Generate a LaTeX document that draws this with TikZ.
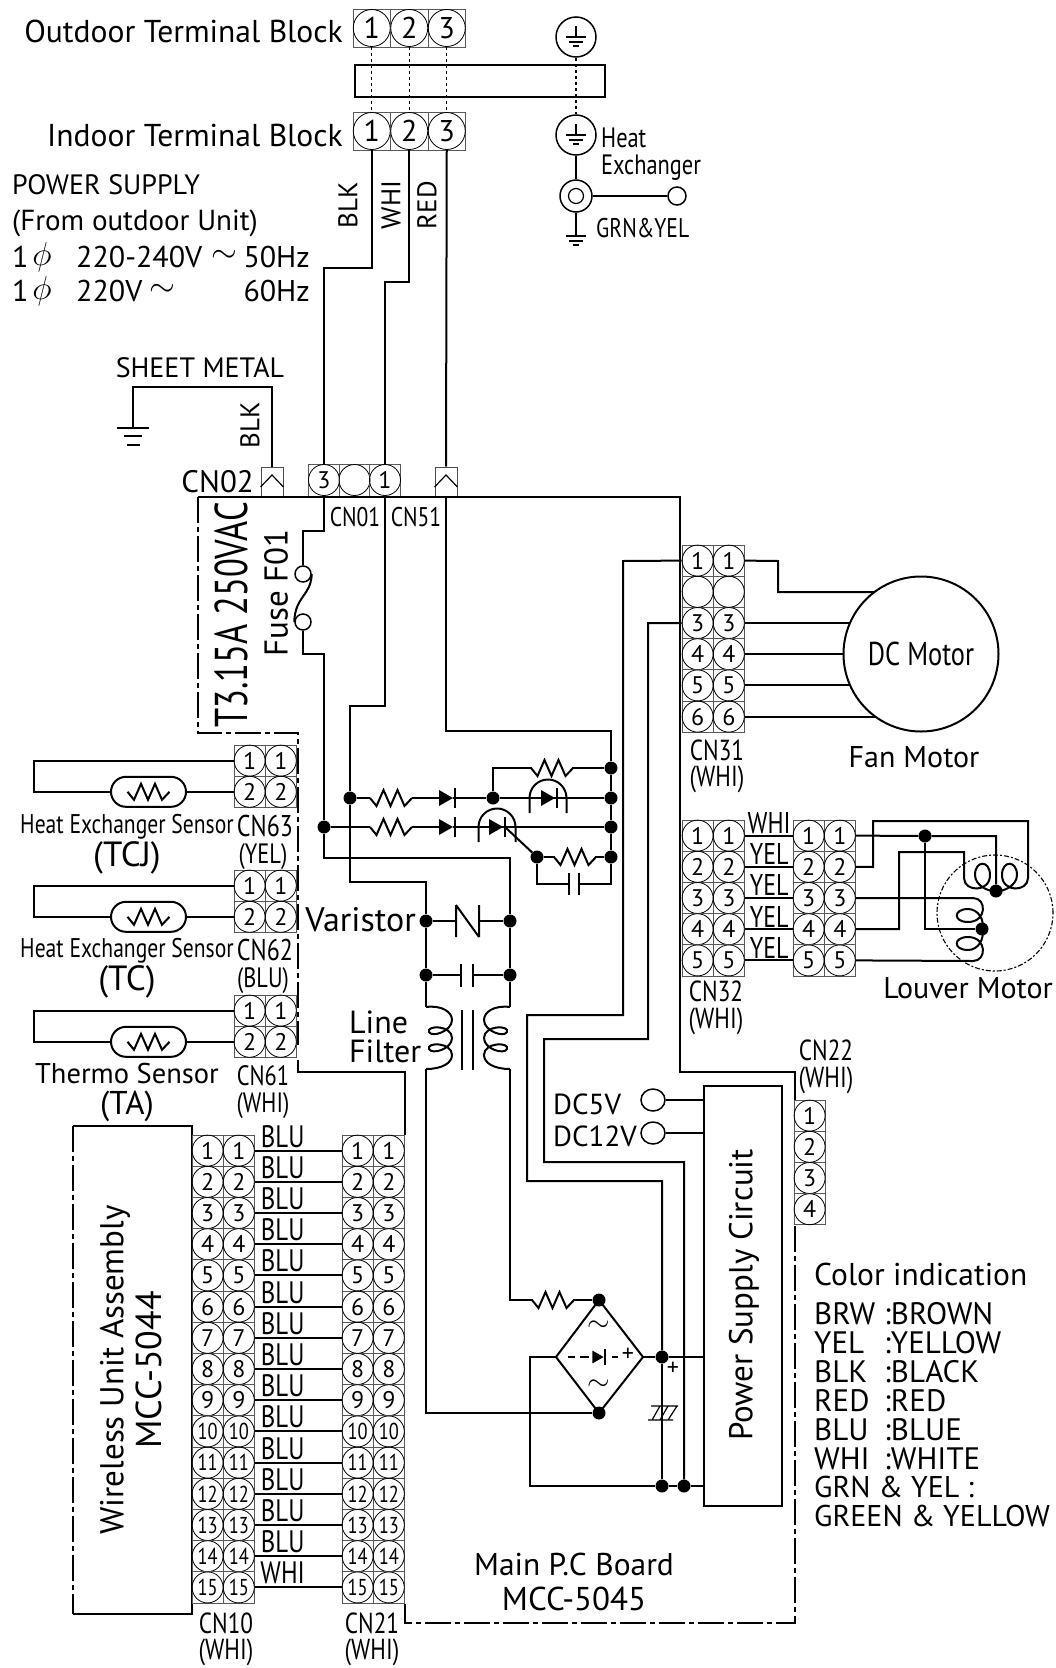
\documentclass[tikz,border=0pt]{standalone}
\usepackage{fontspec}
\usetikzlibrary{calc,shapes.geometric}
\setmainfont{PT Sans}
\newfontfamily\narrowfont[FakeStretch=0.8]{PT Sans}
\newfontfamily\slimfont[FakeStretch=0.75]{PT Sans}
\tikzset{
  wire/.style={line width=2pt},
  thinwire/.style={line width=1.2pt},
  gridline/.style={line width=0.9pt,draw=black!65},
  boardline/.style={line width=1.3pt,dash pattern=on 26pt off 4pt on 5pt off 4pt},
  linkline/.style={line width=1.1pt,dash pattern=on 5pt off 2pt on 2pt off 2pt},
  pinnode/.style={circle,draw,line width=0.8pt,inner sep=0pt,minimum size=31pt,font=\fontsize{24}{24}\selectfont},
  termnode/.style={circle,draw,line width=0.8pt,inner sep=0pt,minimum size=37pt,font=\fontsize{30}{30}\selectfont},
  dot/.style={circle,fill=black,inner sep=0pt,minimum size=13pt},
  txt/.style={inner sep=0pt,font=\fontsize{#1}{#1}\selectfont},
  txt/.default=28,
  nar/.style={inner sep=0pt,font=\narrowfont\fontsize{#1}{#1}\selectfont},
  nar/.default=28,
  sym/.style={inner sep=0pt,scale=#1,font=\fontsize{20}{20}\selectfont},
  resistor/.pic={\draw[wire] (-21,0) -- (-14.5,8) -- (-7.5,-8) -- (-0.5,8) -- (6.5,-8) -- (13.5,8) -- (21,0);},
  diode/.pic={\fill (-7,-8) -- (7,0) -- (-7,8) -- cycle; \draw[wire] (9,-10) -- (9,10);},
  lamp/.pic={\draw[wire] (-18.5,15) -- (-18.5,0) arc[start angle=180,end angle=360,radius=18.5] -- (18.5,15);},
  coil/.pic={\draw[wire] (0,0) .. controls (16,-2) and (26,5) .. (26,13)
    .. controls (26,24) and (6,31) .. (3,25) .. controls (0,18) and (26,18) .. (26,31)
    .. controls (26,42) and (6,48) .. (3,42) .. controls (0,35) and (26,35) .. (26,48)
    .. controls (26,56) and (16,62) .. (0,62);},
  earth/.pic={\draw[thinwire] (-10,0) -- (10,0) (-7,5) -- (7,5) (-3,9) -- (3,9);}
}
\newcommand{\pinnum}[1]{\ifnum#1>9 {\narrowfont\fontsize{23}{23}\selectfont #1}\else #1\fi}
% name, left, top, columns, rows (the optional row stays blank)
\newcommand{\pinblock}[6][0]{%
  \foreach \c in {1,...,#5}{\foreach \r in {1,...,#6}{
    \draw[gridline] ({#3+31.2*(\c-1)},{#4+31.2*(\r-1)}) rectangle +(31.2,31.2);
    \ifnum\r=#1
      \node[pinnode] (#2-\c-\r) at ({#3+31.2*(\c-.5)},{#4+31.2*(\r-.5)}) {};
    \else
      \node[pinnode] (#2-\c-\r) at ({#3+31.2*(\c-.5)},{#4+31.2*(\r-.5)}) {\pinnum{\r}};
    \fi
  }}}
\newcommand{\tabplug}[2]{%
  \node[draw=black!70,line width=0.9pt,minimum width=22pt,minimum height=30pt,inner sep=0pt] (#1) at (#2,482) {};
  \draw[thinwire] (#1.west) ++(0,5) -- (#2,475) -- ([yshift=-5pt]#1.east);}

\begin{document}
\begin{tikzpicture}[x=1pt,y=-1pt]
\useasboundingbox (0,0) rectangle (1056,1668);

% Terminal blocks and earth
\foreach \n/\xc in {1/371.75,2/409.25,3/446.75}{
  \draw[gridline] (\xc-18.75,9) rectangle +(37.5,38);
  \draw[gridline] (\xc-18.75,112) rectangle +(37.5,38);
  \node[termnode] (otb\n) at (\xc,28) {\n};
  \node[termnode] (itb\n) at (\xc,131) {\n};
  \draw[thinwire,dashed] (otb\n) -- (itb\n);
}
\draw[line width=2.2pt] (355,65) rectangle (605,97);
\node[draw,circle,line width=1.5pt,minimum size=40pt,inner sep=0pt] (gndtop) at (576,37) {};
\node[draw,circle,line width=1.5pt,minimum size=40pt,inner sep=0pt] (gndhx) at (576,135) {};
\draw[thinwire,dashed] (gndtop) -- (gndhx);
\draw[thinwire] (576,26) -- (576,37) (576,124) -- (576,135);
\pic at (576,37) {earth};
\pic at (576,135) {earth};
\node[draw,circle,line width=1.5pt,minimum size=32pt,inner sep=0pt] (hxring) at (576,196) {};
\node[draw,circle,line width=1.2pt,minimum size=15pt,inner sep=0pt] at (576,196) {};
\node[draw,circle,line width=1.5pt,minimum size=18pt,inner sep=0pt] (hxlug) at (677,196) {};
\coordinate (hxgnd) at (576,236);
\draw[wire] (gndhx) -- (hxring);
\draw[wire] (hxring) -- (hxlug);
\draw[wire] (hxring) -- (hxgnd);
\pic at (576,236) {earth};
\node[nar=28,anchor=west] at (601,138) {Heat};
\node[nar=28,anchor=west] at (601,168) {Exchanger};
\node[nar=27,anchor=west] at (596,228) {GRN\&YEL};
\node[txt=31.6,anchor=east] at (343,31) {Outdoor Terminal Block};
\node[txt=31.6,anchor=east] at (343,135) {Indoor Terminal Block};

% Power supply note
\node[txt,anchor=west] at (12,185) {POWER SUPPLY};
\node[txt=29,anchor=west] at (12,223) {(From outdoor Unit)};
\foreach \yy in {257,291}{
  \node[txt=30,anchor=west] at (12,\yy) {1};
  \node[sym=1.6] at (42,\yy) {$\phi$};
}
\node[txt=30,anchor=west] at (76,257) {220-240V};
\node[sym=1.6] at (224,256) {$\sim$};
\node[txt=30,anchor=east] at (310,257) {50Hz};
\node[txt=30,anchor=west] at (76,291) {220V};
\node[sym=1.6] at (162,290) {$\sim$};
\node[txt=30,anchor=east] at (310,291) {60Hz};

% Board connectors on the top edge
\foreach \n/\xc/\lab in {3/324/3,2/354.5/{},1/385/1}{
  \draw[gridline] (\xc-15.3,464) rectangle +(30.6,32);
  \node[pinnode] (cn01p\n) at (\xc,480) {\lab};
}
\tabplug{cn02}{272}
\tabplug{cn51}{446}
\draw[wire] (itb1.south) -- (371.75,268) -- (324,268) -- (cn01p3.north);
\draw[wire] (itb2.south) -- (409.25,282) -- (385,282) -- (cn01p1.north);
\draw[wire] (itb3.south) -- (cn51.north);
\node[txt=27,rotate=90] at (348,205) {BLK};
\node[txt=27,rotate=90] at (391,205) {WHI};
\node[txt=27,rotate=90] at (427,205) {RED};
\coordinate (sheetgnd) at (133,428);
\draw[wire] (cn02.north) -- (272,387) -- (133,387) -- (sheetgnd);
\draw[thinwire] (117,428) -- (149,428) (124,436) -- (142,436) (127,445) -- (140,445);
\node[txt,anchor=south] at (200,378) {SHEET METAL};
\node[txt=27,rotate=90] at (250,425) {BLK};
\node[txt=31,anchor=east] at (254,482) {CN02};
\node[nar=27] at (355,517) {CN01};
\node[nar=27] at (416,517) {CN51};

% Board outline
\draw[wire] (198,497) -- (680,497) -- (680,1072) -- (795,1072) -- (795,1100);
\draw[boardline] (198,497) -- (198,733) -- (298,733) -- (298,1045);
\draw[thinwire] (298,1060) -- (298,1072) -- (405,1072) -- (405,1135);
\draw[boardline] (405,1604) -- (405,1623) -- (795,1623) -- (795,1224);
\node[font=\slimfont\fontsize{46}{46}\selectfont,inner sep=0pt,rotate=90] at (231,615) {T3.15A 250VAC};
\node[txt=33,rotate=90] at (276,593) {Fuse F01};

% Fuse
\node[draw,circle,line width=1.5pt,minimum size=16pt,inner sep=0pt] (fusea) at (303,574) {};
\node[draw,circle,line width=1.5pt,minimum size=16pt,inner sep=0pt] (fuseb) at (303,622) {};
\draw[wire] (fusea.east) .. controls (311,596) and (295,596) .. (fuseb.west);
\coordinate (acin) at (324,654);

% Indicator lamps and their resistors
\node[dot] (dac) at (324,827) {};
\node[dot] (dn) at (350,798) {};
\node[dot] (dled) at (493,798) {};
\node[dot] (dcom) at (537,857) {};
\node[dot] (dr1) at (611,768) {};
\node[dot] (dr2) at (611,798) {};
\node[dot] (dr3) at (611,827) {};
\node[dot] (dr4) at (611,857) {};
\node[dot] (dva) at (426,921) {};
\node[dot] (dvb) at (510,921) {};
\node[dot] (dca) at (426,975) {};
\node[dot] (dcb) at (510,975) {};
\draw[wire] (cn01p3.south) -- (324,531) -- (303,531) -- (fusea.north);
\draw[wire] (fuseb.south) -- (303,654) -- (acin) -- (dac) -- (324,858) -- (510,858) -- (dvb);
\draw[wire] (cn01p1.south) -- (385,706) -- (350,706) -- (dn) -- (350,882) -- (426,882) -- (dva);
\draw[wire] (cn51.south) -- (446,731) -- (611,731) -- (dr1) -- (dr2) -- (dr3) -- (dr4) -- (611,884) -- (537,884) -- (dcom);
\draw[wire] (dled) -- (493,768) -- (532,768);
\draw[wire] (572,768) -- (dr1);
\pic at (552,768) {resistor};
\draw[wire] (dn) -- (370,798) (412,798) -- (439,798) (453,798) -- (dled) -- (dr2);
\pic at (391,798) {resistor};
\pic at (446,798) {diode};
\pic at (548,798) {diode};
\pic at (548,798) {lamp};
\draw[wire] (dac) -- (370,827) (412,827) -- (439,827) (453,827) -- (dr3);
\pic at (391,827) {resistor};
\pic at (446,827) {diode};
\pic at (496,827) {diode};
\pic at (497,827) {lamp};
\draw[wire] (505,827) -- (dcom);
\draw[wire] (dcom) -- (555,857) (595,857) -- (dr4);
\pic at (575,857) {resistor};
\fill[white] (570,880) rectangle (578,888);
\draw[wire] (569,873) -- (569,895) (579,873) -- (579,895);

% Varistor and line filter
\draw[wire] (dva) -- (456,921) (479,921) -- (dvb);
\draw[wire] (456,905) -- (456,937) (456,905) -- (479,937) (479,905) -- (479,937);
\draw[wire] (dva) -- (dca) -- (461,975) (473,975) -- (dcb) -- (dvb);
\draw[wire] (461,964) -- (461,987) (473,964) -- (473,987);
\draw[wire] (dca) -- (426,1007) (dcb) -- (510,1007);
\pic at (426,1007) {coil};
\pic[xscale=-1] at (510,1007) {coil};
\draw[wire] (462,1010) -- (462,1070) (473,1010) -- (473,1070);
\node[txt=34,anchor=east] at (416,920) {Varistor};
\node[txt=32,anchor=west] at (349,1022) {Line};
\node[txt=32,anchor=west] at (349,1051) {Filter};

% Bridge, capacitor and power supply
\node[dot] (dbt) at (599,1300) {};
\node[dot] (dbb) at (599,1413) {};
\node[dot] (dbr) at (662,1357) {};
\node[dot] (dgnd) at (662,1486) {};
\node[dot] (dsig) at (684,1486) {};
\draw[wire] (556,1357) -- (dbt.center) -- (643,1357) -- (dbb.center) -- cycle;
\draw[thinwire] (568,1357) -- (575,1357) (580,1357) -- (589,1357) (612,1357) -- (618,1357);
\pic[scale=0.8] at (598,1357) {diode};
\node[txt=24] at (628,1355) {+};
\node[sym=1.4] at (599,1326) {$\sim$};
\node[sym=1.4] at (599,1385) {$\sim$};
\draw[wire] (426,1069) -- (426,1413) -- (dbb);
\draw[wire] (510,1069) -- (510,1300) -- (533,1300);
\draw[wire] (573,1300) -- (dbt);
\pic at (553,1300) {resistor};
\node[draw,line width=2pt,minimum width=78pt,minimum height=420pt,inner sep=0pt] (psc) at (743,1296) {};
\node[txt=33,rotate=90] at (744,1295) {Power Supply Circuit};
\draw[wire] (643,1357) -- (dbr) -- (psc.west |- dbr);
\draw[wire] (556,1357) -- (530,1357) -- (530,1486) -- (dgnd) -- (dsig) -- (psc.west |- dsig);
\draw[thinwire] (651,1406) -- (678,1406) (648,1420) -- (673,1420) (660,1406) -- (652,1420) (668,1406) -- (660,1420) (677,1406) -- (668,1420);
\node[txt=24] at (673,1369) {+};
\node[draw,ellipse,line width=1.5pt,minimum width=24pt,minimum height=22pt,inner sep=0pt] (dc5) at (653,1100) {};
\node[draw,ellipse,line width=1.5pt,minimum width=24pt,minimum height=22pt,inner sep=0pt] (dc12) at (653,1133) {};
\draw[thinwire] (dc5) -- (psc.west |- dc5);
\draw[thinwire] (dc12) -- (psc.west |- dc12);
\node[txt=29,anchor=west] at (553,1104) {DC5V};
\node[txt=29,anchor=west] at (553,1136) {DC12V};

% Fan motor
\pinblock[2]{cn31}{682}{545}{2}{6}
\coordinate (motorc) at (921,654);
\draw[wire] (cn31-2-1.east) -- (778,561) -- (778,592) -- (921,592);
\foreach \r in {3,4,5,6}{\draw[wire] (cn31-2-\r.east) -- (motorc |- cn31-2-\r);}
\node[draw,circle,fill=white,line width=2pt,minimum size=155pt,inner sep=0pt,font=\narrowfont\fontsize{33}{33}\selectfont] (motor) at (motorc) {DC Motor};
\node[txt=30] at (914,757) {Fan Motor};
\node[nar=29] at (717,750) {CN31};
\node[nar=29] at (717,779) {(WHI)};
\draw[wire] (dbr) -- (662,1181) -- (527,1181) -- (527,1015) -- (623,1015) -- (623,561) -- (cn31-1-1.west);
\draw[wire] (dbr) -- (dgnd);
\draw[wire] (dsig) -- (684,1162) -- (544,1162) -- (544,1039) -- (648,1039) -- (648,623) -- (cn31-1-3.west);

% Louver motor
\pinblock{cn32}{682}{820}{2}{5}
\pinblock{lm}{793}{820}{2}{5}
\foreach \r/\lab in {1/WHI,2/YEL,3/YEL,4/YEL,5/YEL}{
  \draw[wire] (cn32-2-\r.east) -- (lm-1-\r.west);
  \node[nar=30,anchor=south] at ($(cn32-2-\r.east)+(24.5,-2)$) {\lab};
}
\node[nar=29] at (716,991) {CN32};
\node[nar=29] at (716,1021) {(WHI)};
\node[circle,draw,linkline,minimum size=116pt,inner sep=0pt] (louver) at (995,913) {};
\node[dot] (dlm) at (925,836) {};
\node[dot] (dcoila) at (996,891) {};
\node[dot] (dcoilb) at (982,929) {};
\draw[wire] (lm-2-1.east) -- (dlm) -- (996,836) -- (dcoila);
\draw[wire] (dlm) -- (925,929) -- (dcoilb);
\draw[wire] (lm-2-4.east) -- (899,929) -- (899,852) -- (964,852) -- (964,878)
  .. controls (964,892) and (990,893) .. (990,875) .. controls (990,860) and (975,860) .. (975,875)
  .. controls (975,885) and (988,892) .. (dcoila.center);
\draw[wire] (lm-2-2.east) -- (873,867) -- (873,821) -- (1028,821) -- (1028,878)
  .. controls (1028,892) and (1002,893) .. (1002,875) .. controls (1002,860) and (1017,860) .. (1017,875)
  .. controls (1017,885) and (1004,892) .. (dcoila.center);
\draw[wire] (lm-2-3.east) -- (973,898)
  .. controls (987,898) and (987,922) .. (968,922) .. controls (953,922) and (953,909) .. (968,909)
  .. controls (978,909) and (985,920) .. (dcoilb.center);
\draw[wire] (lm-2-5.east) -- (973,961)
  .. controls (987,961) and (987,937) .. (968,937) .. controls (953,937) and (953,950) .. (968,950)
  .. controls (978,950) and (985,939) .. (dcoilb.center);
\node[txt=30] at (968,988) {Louver Motor};

% Sensors
\pinblock{cn63}{234}{745}{2}{2}
\pinblock{cn62}{234}{870}{2}{2}
\pinblock{cn61}{234}{995}{2}{2}
\foreach \cn in {cn63,cn62,cn61}{
  \draw[wire] (\cn-1-1.west) -- (34,0 |- \cn-1-1) -- (34,0 |- \cn-1-2) -- (\cn-1-2.west);
  \node[draw,rounded corners=15pt,fill=white,line width=2pt,minimum width=75pt,minimum height=30pt,inner sep=0pt] (\cn th) at (148.5,0 |- \cn-1-2) {};
  \pic at (\cn th) {resistor};
}
\node[nar=27] at (127,827) {Heat Exchanger Sensor};
\node[txt=35] at (127,858) {(TCJ)};
\node[nar=30] at (265,826) {CN63};
\node[nar=28] at (263,857) {(YEL)};
\node[nar=27] at (127,951) {Heat Exchanger Sensor};
\node[txt=35] at (127,982) {(TC)};
\node[nar=30] at (265,950) {CN62};
\node[nar=28] at (263,981) {(BLU)};
\node[txt=28.5] at (127,1074) {Thermo Sensor};
\node[txt=33] at (127,1106) {(TA)};
\node[nar=28] at (263,1076) {CN61};
\node[nar=28] at (263,1106) {(WHI)};

% Wireless unit
\draw[wire] (73,1126) -- (192,1126) -- (192,1614) -- (73,1614);
\draw[boardline] (73,1126) -- (73,1614);
\pinblock{cna}{192}{1135}{2}{15}
\pinblock{cnb}{342}{1135}{2}{15}
\foreach \r in {1,...,15}{
  \draw[wire] (cna-2-\r.east) -- (cnb-1-\r.west);
  \ifnum\r=15 \def\lab{WHI}\else\def\lab{BLU}\fi
  \node[nar=31,anchor=south] at ($(cna-2-\r.east)+(28,-3)$) {\lab};
}
\node[txt=33,rotate=90] at (115,1370) {Wireless Unit Assembly};
\node[txt=36,rotate=90] at (149,1370) {MCC-5044};
\node[nar=29] at (226,1623) {CN10};
\node[nar=29] at (226,1652) {(WHI)};
\node[nar=29] at (372,1623) {CN21};
\node[nar=29] at (372,1652) {(WHI)};
\node[txt=31.5] at (574,1564) {Main P.C Board};
\node[txt=33] at (574,1599) {MCC-5045};

% CN22 and colour legend
\pinblock{cn22}{794}{1100}{1}{4}
\node[nar=29] at (826,1050) {CN22};
\node[nar=29] at (826,1080) {(WHI)};
\node[txt=31.5,anchor=west] at (814,1274) {Color indication};
\foreach \yy/\ab/\full in {1314/BRW/BROWN,1343/YEL/YELLOW,1372/BLK/BLACK,1401/RED/RED,1430/BLU/BLUE,1459/WHI/WHITE}{
  \node[txt=31,anchor=west] at (814,\yy) {\ab};
  \node[txt=31,anchor=west] at (884,\yy) {:\full};
}
\node[txt=30,anchor=west] at (814,1487) {GRN \& YEL :};
\node[txt=30,anchor=west] at (814,1516) {GREEN \& YELLOW};
\end{tikzpicture}
\end{document}
